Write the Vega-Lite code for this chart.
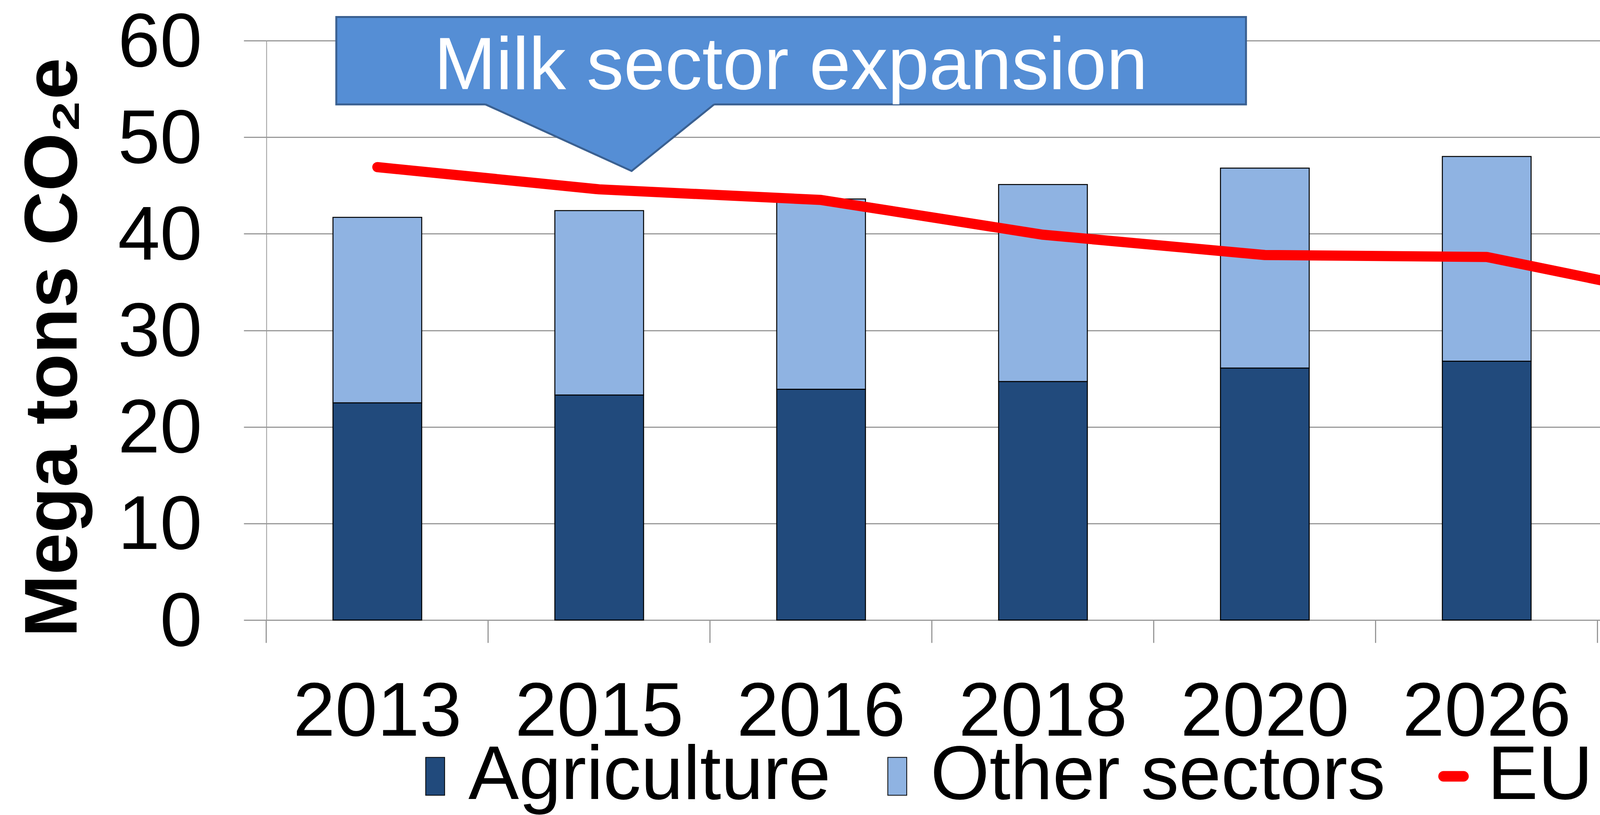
{
  "$schema": "https://vega.github.io/schema/vega-lite/v6.json",
  "autosize": {"type": "fit", "contains": "padding"},
  "width": 4626,
  "height": 2086,
  "padding": {"left": 41, "top": 14, "right": 0, "bottom": 165},
  "background": "white",
  "config": {
    "view": {"stroke": null},
    "font": "Liberation Sans",
    "axisY": {
      "titleFont": "Liberation Sans", "titleFontWeight": "bold",
      "titleFontSize": 192, "titleColor": "black", "titleAngle": 270,
      "titleX": -487, "titleY": 785, "titleAlign": "center", "titleBaseline": "alphabetic",
      "labelFont": "Liberation Sans", "labelFontSize": 194, "labelColor": "black",
      "labelPadding": 107, "labelBaseline": "alphabetic", "labelOffset": 65,
      "labelLimit": 3000, "labelOverlap": false, "labelBound": false, "labelFlush": false,
      "grid": true, "gridColor": "#999999", "gridWidth": 3,
      "ticks": true, "tickSize": 58, "tickColor": "#999999", "tickWidth": 3,
      "domain": true, "domainColor": "#999999", "domainWidth": 2
    }
  },
  "datasets": {
    "bars": [
      {"year": "2013", "sector": "Agriculture", "value": 22.5},
      {"year": "2013", "sector": "Other sectors", "value": 19.2},
      {"year": "2015", "sector": "Agriculture", "value": 23.3},
      {"year": "2015", "sector": "Other sectors", "value": 19.1},
      {"year": "2016", "sector": "Agriculture", "value": 23.9},
      {"year": "2016", "sector": "Other sectors", "value": 19.7},
      {"year": "2018", "sector": "Agriculture", "value": 24.7},
      {"year": "2018", "sector": "Other sectors", "value": 20.4},
      {"year": "2020", "sector": "Agriculture", "value": 26.1},
      {"year": "2020", "sector": "Other sectors", "value": 20.7},
      {"year": "2026", "sector": "Agriculture", "value": 26.8},
      {"year": "2026", "sector": "Other sectors", "value": 21.2},
      {"year": "2030", "sector": "Agriculture", "value": 26.4},
      {"year": "2030", "sector": "Other sectors", "value": 21.1}
    ],
    "limit": [
      {"year": "2013", "series": "EU Limit", "limit": 46.9},
      {"year": "2015", "series": "EU Limit", "limit": 44.6},
      {"year": "2016", "series": "EU Limit", "limit": 43.5},
      {"year": "2018", "series": "EU Limit", "limit": 39.9},
      {"year": "2020", "series": "EU Limit", "limit": 37.8},
      {"year": "2026", "series": "EU Limit", "limit": 37.6},
      {"year": "2030", "series": "EU Limit", "limit": 32.9}
    ],
    "box": [
      {"x1": 0.315, "x2": 4.415, "ytop": 62.45, "ybot": 53.4}
    ],
    "pointer": [
      {"tx": 0.987, "ty": 53.4},
      {"tx": 1.646, "ty": 46.5},
      {"tx": 2.018, "ty": 53.4}
    ],
    "caption": [
      {"tx": 2.364, "ty": 55.0, "label": "Milk sector expansion"}
    ]
  },
  "layer": [
    {
      "data": {"name": "bars"},
      "mark": {"type": "bar", "stroke": "black", "strokeWidth": 2.5},
      "encoding": {
        "x": {
          "field": "year", "type": "nominal", "sort": null,
          "scale": {"paddingInner": 0.6, "paddingOuter": 0.3, "range": [0, 3976]},
          "axis": {
            "title": null, "labelAngle": 0, "labelFont": "Liberation Sans", "labelFontSize": 194,
            "labelColor": "black", "labelBaseline": "alphabetic", "labelPadding": 237,
            "labelLimit": 3000, "labelOverlap": false, "labelBound": false, "labelFlush": false,
            "ticks": true, "tickSize": 58, "tickColor": "#999999", "tickWidth": 3,
            "bandPosition": -0.75, "domain": false, "grid": false
          }
        },
        "y": {
          "field": "value", "type": "quantitative", "stack": "zero",
          "scale": {"domain": [0, 60], "nice": false},
          "axis": {"title": "Mega tons CO₂e", "values": [0, 10, 20, 30, 40, 50, 60]}
        },
        "order": {"field": "sector", "type": "ordinal", "sort": "ascending"},
        "fill": {
          "field": "sector", "type": "nominal",
          "scale": {"domain": ["Agriculture", "Other sectors"], "range": ["#214A7C", "#8FB3E2"]},
          "legend": {
            "orient": "none", "legendX": 335, "legendY": 1786, "direction": "horizontal",
            "title": null, "padding": 0,
            "labelFont": "Liberation Sans", "labelFontSize": 194, "labelColor": "black", "labelLimit": 3000,
            "labelOffset": -12, "columnPadding": 73,
            "symbolType": "M-0.5,-1H0.5V1H-0.5Z", "symbolSize": 9409,
            "symbolStrokeColor": "black", "symbolStrokeWidth": 2, "symbolOpacity": 1
          }
        }
      }
    },
    {
      "data": {"name": "limit"},
      "mark": {"type": "line", "strokeWidth": 26, "strokeCap": "round", "strokeJoin": "round"},
      "encoding": {
        "x": {
          "field": "year", "type": "nominal", "sort": null,
          "scale": {"paddingInner": 0.6, "paddingOuter": 0.3, "range": [0, 3976]},
          "axis": null
        },
        "y": {"field": "limit", "type": "quantitative"},
        "stroke": {
          "field": "series", "type": "nominal",
          "scale": {"domain": ["EU Limit"], "range": ["#FF0000"]},
          "legend": {
            "orient": "none", "legendX": 2942, "legendY": 1786, "direction": "horizontal",
            "title": null, "padding": 0,
            "labelFont": "Liberation Sans", "labelFontSize": 194, "labelColor": "black", "labelLimit": 3000,
            "labelOffset": -10,
            "symbolType": "stroke", "symbolSize": 2601, "symbolStrokeWidth": 27,
            "encode": {"symbols": {"update": {"strokeCap": {"value": "round"}}}}
          }
        }
      }
    },
    {
      "data": {"name": "box"},
      "mark": {"type": "rect", "fill": "#558ED5", "stroke": "#3A6091", "strokeWidth": 5},
      "encoding": {
        "x": {"field": "x1", "type": "quantitative", "scale": {"domain": [0, 7], "range": [0, 3976], "nice": false, "zero": false}, "axis": null},
        "x2": {"field": "x2"},
        "y": {"field": "ytop", "type": "quantitative"},
        "y2": {"field": "ybot"}
      }
    },
    {
      "data": {"name": "pointer"},
      "mark": {"type": "area", "fill": "#558ED5", "interpolate": "linear", "orient": "vertical"},
      "encoding": {
        "x": {"field": "tx", "type": "quantitative", "scale": {"domain": [0, 7], "range": [0, 3976], "nice": false, "zero": false}, "axis": null},
        "y": {"field": "ty", "type": "quantitative", "stack": null},
        "y2": {"datum": 53.75}
      }
    },
    {
      "data": {"name": "pointer"},
      "mark": {"type": "line", "stroke": "#3A6091", "strokeWidth": 5, "strokeJoin": "miter"},
      "encoding": {
        "x": {"field": "tx", "type": "quantitative", "scale": {"domain": [0, 7], "range": [0, 3976], "nice": false, "zero": false}, "axis": null},
        "y": {"field": "ty", "type": "quantitative"}
      }
    },
    {
      "data": {"name": "caption"},
      "mark": {"type": "text", "fontSize": 190, "color": "white", "align": "center", "baseline": "alphabetic", "font": "Liberation Sans"},
      "encoding": {
        "x": {"field": "tx", "type": "quantitative", "scale": {"domain": [0, 7], "range": [0, 3976], "nice": false, "zero": false}, "axis": null},
        "y": {"field": "ty", "type": "quantitative"},
        "text": {"field": "label"}
      }
    }
  ],
  "resolve": {"scale": {"x": "independent"}, "axis": {"x": "independent"}}
}
